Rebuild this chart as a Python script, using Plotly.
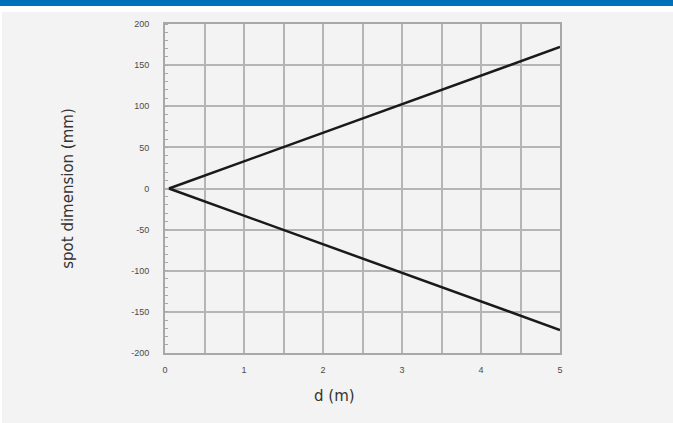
import plotly.graph_objects as go

d_values = [0.05, 5.0]
upper_mm = [0, 172]
lower_mm = [0, -172]
x_ticks = [0, 1, 2, 3, 4, 5]
y_ticks = [-200, -150, -100, -50, 0, 50, 100, 150, 200]

W, H = 673, 423
L, R, T, B = 165, 560, 24, 353
pw, ph = R - L, B - T

def px(x):
    return (x - L) / pw

def py(y):
    return (B - y) / ph

fig = go.Figure()
for ys in (upper_mm, lower_mm):
    fig.add_trace(go.Scatter(x=d_values, y=ys, mode="lines",
                             line=dict(color="#1a1a1a", width=2.5),
                             showlegend=False, hoverinfo="skip"))

shapes = [
    dict(type="rect", xref="paper", yref="paper", x0=px(0), x1=px(W), y0=py(0), y1=py(6),
         fillcolor="#0071b9", line=dict(width=0), layer="below"),
    dict(type="rect", xref="paper", yref="paper", x0=px(0), x1=px(W), y0=py(6), y1=py(12),
         fillcolor="#ffffff", line=dict(width=0), layer="below"),
    dict(type="rect", xref="paper", yref="paper", x0=px(0), x1=px(2), y0=py(12), y1=py(H),
         fillcolor="#ffffff", line=dict(width=0), layer="below"),
]

title_font = dict(family="DejaVu Sans, sans-serif", size=15, color="#333333")
tick_font = dict(family="Liberation Sans, Arial, sans-serif", size=9, color="#4a4a4a")

fig.add_annotation(text="d (m)", xref="paper", yref="paper", x=px(334), y=py(396),
                   showarrow=False, xanchor="center", yanchor="middle", font=title_font)

fig.update_layout(
    width=W, height=H,
    margin=dict(l=L, r=W - R, t=T, b=H - B),
    paper_bgcolor="#f3f3f3", plot_bgcolor="#f3f3f3",
    shapes=shapes,
    font=dict(family="Liberation Sans, Arial, sans-serif"),
    xaxis=dict(range=[0, 5], tickvals=x_ticks, ticktext=[str(v) for v in x_ticks],
               showgrid=True, gridcolor="#b5b5b5", gridwidth=2,
               minor=dict(dtick=0.5, showgrid=True, gridcolor="#b5b5b5", gridwidth=2),
               showline=True, linecolor="#a8a8a8", linewidth=2, mirror=True,
               zeroline=False, ticks="", ticklabelstandoff=7,
               tickfont=tick_font),
    yaxis=dict(range=[-200, 200], tickvals=y_ticks, ticktext=[str(v) for v in y_ticks],
               showgrid=True, gridcolor="#b5b5b5", gridwidth=2,
               showline=True, linecolor="#a8a8a8", linewidth=2, mirror=True,
               zeroline=False, ticks="", ticklabelstandoff=12,
               minor=dict(ticks="inside", dtick=10, ticklen=3, tickcolor="#a8a8a8", showgrid=False),
               tickfont=tick_font,
               title=dict(text="spot dimension (mm)", font=title_font, standoff=54)),
)

fig.write_html("out.html", config={"displayModeBar": False},
               post_script="document.body.style.margin='0';document.body.style.overflow='hidden';")
